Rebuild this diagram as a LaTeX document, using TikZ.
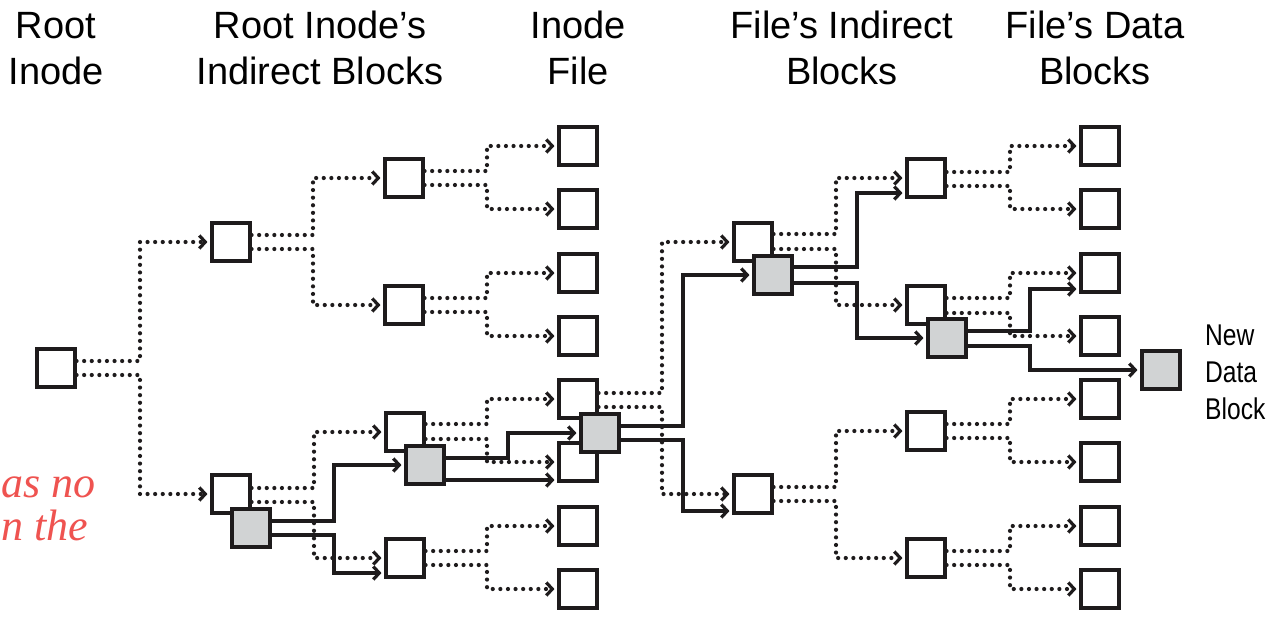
\documentclass[tikz,border=0pt]{standalone}
\usepackage{fontspec}
\setmainfont{Liberation Sans}
\newfontfamily\handfont{Liberation Serif}
\newfontfamily\narrowfont[FakeStretch=0.82]{Liberation Sans}
\usetikzlibrary{arrows.meta,calc}
\definecolor{ink}{RGB}{30,27,28}
\definecolor{blockgray}{RGB}{209,211,212}
\definecolor{handred}{RGB}{239,83,80}
\pgfdeclarelayer{back}
\pgfdeclarelayer{bg}
\pgfsetlayers{back,bg,main}
\newcommand\lnk[6]{\draw[#1] let \p1=($(#2.east)+(0,#3)$), \p2=($(#5.west)+(0,#6)$), \p3=(#4,0) in (\p1) -- (\x3,\y1) -- (\x3,\y2) -- (\p2);}
\begin{document}
\begin{tikzpicture}[x=1pt,y=-1pt,
  box/.style={draw=ink,line width=3.6pt,fill=white,minimum size=37.5pt,inner sep=0pt},
  gbox/.style={box,fill=blockgray},
  tip/.style={-{Straight Barb[length=6pt,width=13pt,line width=3.2pt]}},
  dotline/.style={draw=ink,line width=4.2pt,line cap=round,dash pattern=on 0pt off 7.6pt,tip,shorten >=3pt},
  solidline/.style={draw=ink,line width=3.4pt,tip,shorten >=3pt},
  hdr/.style={font=\fontsize{38}{46}\selectfont,inner sep=0pt,text=black,anchor=base},
  lbl/.style={font=\narrowfont\fontsize{30}{37}\selectfont,inner sep=0pt,text=black,anchor=base west},
  hand/.style={font=\handfont\itshape\fontsize{44}{48}\selectfont,inner sep=0pt,text=handred,anchor=base west}]
\begin{pgfonlayer}{back}
\fill[white] (0,0) rectangle (1276,619);
\end{pgfonlayer}
\useasboundingbox (0,0) rectangle (1276,619);

% headers
\node[hdr] (h1a) at (56,38) {Root};
\node[hdr] (h1b) at (56,84) {Inode};
\node[hdr] (h2a) at (320,38) {Root Inode’s};
\node[hdr] (h2b) at (320,84) {Indirect Blocks};
\node[hdr] (h3a) at (578,38) {Inode};
\node[hdr] (h3b) at (578,84) {File};
\node[hdr] (h4a) at (842,38) {File’s Indirect};
\node[hdr] (h4b) at (842,84) {Blocks};
\node[hdr] (h5a) at (1095,38) {File’s Data};
\node[hdr] (h5b) at (1095,84) {Blocks};

\node[lbl] (n1) at (1205,345) {New};
\node[lbl] (n2) at (1205,382) {Data};
\node[lbl] (n3) at (1205,419) {Block};

\node[hand] (r1) at (1,497) {as no};
\node[hand] (r2) at (1,540) {n the};

% white boxes
\node[box] (R) at (56,368) {};
\node[box] (A1) at (231,242) {};
\node[box] (A2) at (231,494) {};
\node[box] (B1) at (404,178) {};
\node[box] (B2) at (404,305) {};
\node[box] (B3) at (405,432) {};
\node[box] (B4) at (405,558) {};
\foreach \i/\y in {1/146,2/209,3/273,4/336,5/399,6/462,7/526,8/589}{
  \node[box] (I\i) at (578,\y) {};
  \node[box] (D\i) at (1100,\y) {};
}
\node[box] (F1) at (753,242) {};
\node[box] (F2) at (753,494) {};
\node[box] (G1) at (926,178) {};
\node[box] (G2) at (926,305) {};
\node[box] (G3) at (926,431) {};
\node[box] (G4) at (926,558) {};

% grey (new) boxes
\node[gbox] (A2g) at (251,528) {};
\node[gbox] (B3g) at (425,465) {};
\node[gbox] (Ig) at (600,433) {};
\node[gbox] (F1g) at (773,275) {};
\node[gbox] (G2g) at (947,338) {};
\node[gbox] (N) at (1161,370) {};

\begin{pgfonlayer}{bg}
% dotted (old) pointers
\lnk{dotline}{R}{-7}{140}{A1}{0}
\lnk{dotline}{R}{7}{140}{A2}{0}
\lnk{dotline}{A1}{-7}{313}{B1}{0}
\lnk{dotline}{A1}{7}{313}{B2}{0}
\lnk{dotline}{A2}{-6}{314}{B3}{0}
\lnk{dotline}{A2}{8}{314}{B4}{0}
\lnk{dotline}{B1}{-7}{487}{I1}{0}
\lnk{dotline}{B1}{7}{487}{I2}{0}
\lnk{dotline}{B2}{-7}{487}{I3}{0}
\lnk{dotline}{B2}{7}{487}{I4}{0}
\lnk{dotline}{B3}{-8}{487}{I5}{0}
\lnk{dotline}{B3}{7}{487}{I6}{0}
\lnk{dotline}{B4}{-7}{487}{I7}{0}
\lnk{dotline}{B4}{7}{487}{I8}{0}
\lnk{dotline}{I5}{-6}{662}{F1}{0}
\lnk{dotline}{I5}{8}{662}{F2}{0}
\lnk{dotline}{F1}{-8}{836}{G1}{0}
\lnk{dotline}{F1}{7}{836}{G2}{0}
\lnk{dotline}{F2}{-7}{836}{G3}{0}
\lnk{dotline}{F2}{7}{836}{G4}{0}
\lnk{dotline}{G1}{-6}{1010}{D1}{0}
\lnk{dotline}{G1}{8}{1010}{D2}{0}
\lnk{dotline}{G2}{-7}{1010}{D3}{0}
\lnk{dotline}{G2}{8}{1010}{D4}{0}
\lnk{dotline}{G3}{-7}{1010}{D5}{0}
\lnk{dotline}{G3}{7}{1010}{D6}{0}
\lnk{dotline}{G4}{-7}{1010}{D7}{0}
\lnk{dotline}{G4}{7}{1010}{D8}{0}
% solid (new) pointers
\lnk{solidline}{A2g}{-7}{334}{B3g}{0}
\lnk{solidline}{A2g}{7}{334}{B4}{15}
\lnk{solidline}{B3g}{-7}{508}{Ig}{0}
\lnk{solidline}{B3g}{15}{508}{I6}{18}
\lnk{solidline}{Ig}{-7}{683}{F1g}{0}
\lnk{solidline}{Ig}{7}{683}{F2}{17}
\lnk{solidline}{F1g}{-8}{857}{G1}{15}
\lnk{solidline}{F1g}{8}{857}{G2g}{0}
\lnk{solidline}{G2g}{-7}{1030}{D3}{16}
\lnk{solidline}{G2g}{8}{1030}{N}{0}
\end{pgfonlayer}
\end{tikzpicture}
\end{document}
